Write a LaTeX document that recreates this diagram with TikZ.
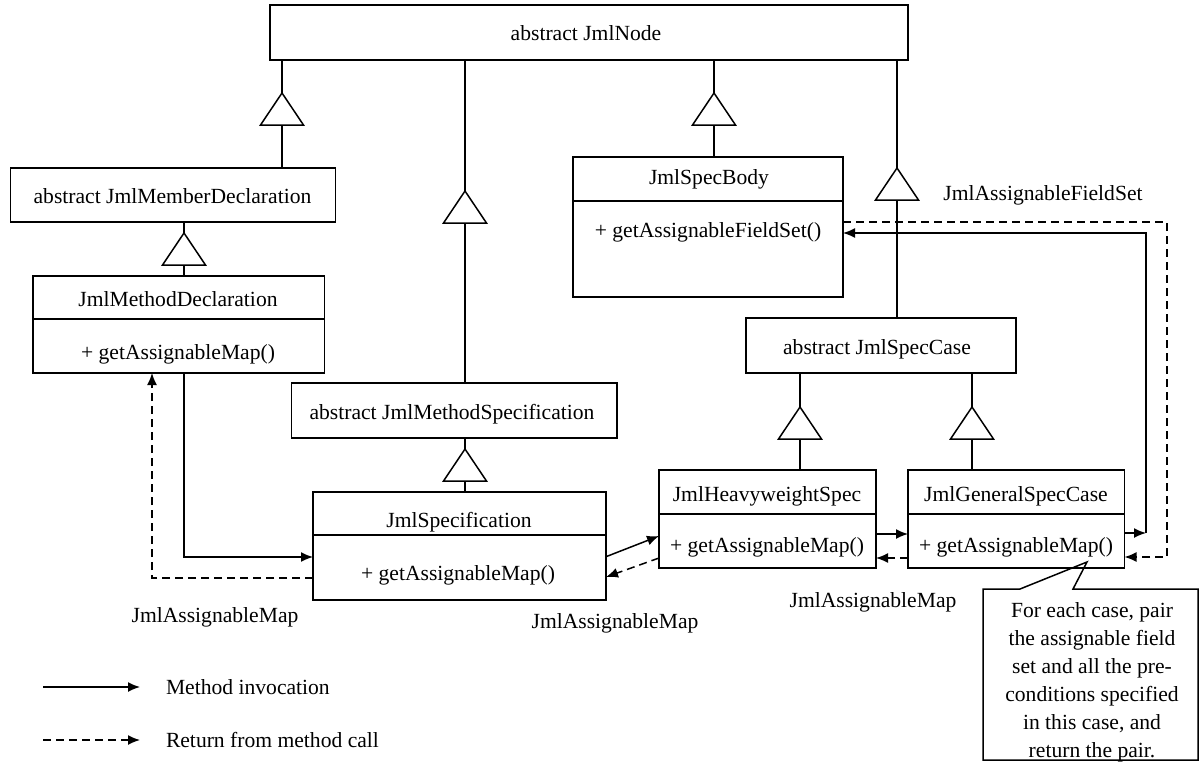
\documentclass[tikz,border=0pt]{standalone}
\usepackage{fontspec}
\setmainfont{Liberation Serif}
\usetikzlibrary{arrows.meta,fit,calc}
\begin{document}
\begin{tikzpicture}[x=0.5pt,y=-0.5pt,
  font=\fontsize{10.8pt}{14pt}\selectfont,
  box/.style={draw, line width=0.75pt, inner sep=0pt, outer sep=0pt},
  txt/.style={inner sep=0pt, outer sep=0pt, text height=7.1pt, text depth=0pt},
  link/.style={line width=0.75pt},
  call/.style={line width=0.75pt, -{Latex[length=6pt,width=5pt]}},
  ret/.style={line width=0.75pt, dash pattern=on 4pt off 2.5pt,
              -{Latex[length=6pt,width=5pt]}},
  gen/.pic={\draw[line width=0.75pt, fill=white] (0,0) -- (-21.5,32) -- (21.5,32) -- cycle;}
]
\useasboundingbox (0,0) rectangle (1199,762);

% ---------- classes ----------
\node[box, fit={(270,5)(908,60)}] (jmlnode) {};
\node[txt] (jmlnodeT) at (586,33) {abstract JmlNode};

\node[box, fit={(10.7,168)(335.6,222)}] (member) {};
\node[txt] (memberT) at (172.5,196) {abstract JmlMemberDeclaration};

\node[box, fit={(33,276)(324.5,373)}] (mdecl) {};
\node[txt] (mdeclT) at (178,299) {JmlMethodDeclaration};
\node[txt] (mdeclM) at (178,352) {+ getAssignableMap()};
\draw[link] (mdecl.west |- 0,319) -- (mdecl.east |- 0,319);

\node[box, fit={(291.5,383)(617,438)}] (mspec) {};
\node[txt] (mspecT) at (452,412) {abstract JmlMethodSpecification};

\node[box, fit={(313,492)(606,600)}] (spec) {};
\node[txt] (specT) at (459,520) {JmlSpecification};
\node[txt] (specM) at (458,573) {+ getAssignableMap()};
\draw[link] (spec.west |- 0,535) -- (spec.east |- 0,535);

\node[box, fit={(573,157)(843,297)}] (body) {};
\node[txt] (bodyT) at (709,177) {JmlSpecBody};
\node[txt] (bodyM) at (708,230) {+ getAssignableFieldSet()};
\draw[link] (body.west |- 0,201) -- (body.east |- 0,201);

\node[box, fit={(746,318)(1016,373)}] (case) {};
\node[txt] (caseT) at (877,347) {abstract JmlSpecCase};

\node[box, fit={(659,470)(876,568)}] (heavy) {};
\node[txt] (heavyT) at (767,494) {JmlHeavyweightSpec};
\node[txt] (heavyM) at (767,545) {+ getAssignableMap()};
\draw[link] (heavy.west |- 0,514) -- (heavy.east |- 0,514);

\node[box, fit={(908,470)(1124.5,568)}] (general) {};
\node[txt] (generalT) at (1016,494) {JmlGeneralSpecCase};
\node[txt] (generalM) at (1016,545) {+ getAssignableMap()};
\draw[link] (general.west |- 0,514) -- (general.east |- 0,514);

% ---------- generalisation ----------
\draw[link] (jmlnode.south -| 282,0) -- (member.north -| 282,0);
\pic at (282,93) {gen};
\draw[link] (jmlnode.south -| 465,0) -- (mspec.north -| 465,0);
\pic at (465,191) {gen};
\draw[link] (jmlnode.south -| 714,0) -- (body.north -| 714,0);
\pic at (714,93) {gen};
\draw[link] (member.south -| 184,0) -- (mdecl.north -| 184,0);
\pic at (184,233) {gen};
\draw[link] (mspec.south -| 465,0) -- (spec.north -| 465,0);
\pic at (465,449) {gen};
\draw[link] (case.south -| 800,0) -- (heavy.north -| 800,0);
\pic at (800,407) {gen};
\draw[link] (case.south -| 972,0) -- (general.north -| 972,0);
\pic at (972,407) {gen};

% ---------- calls and returns ----------
\draw[call] (mdecl.south -| 184,0) |- (spec.west |- 0,557);
\draw[ret] (spec.west |- 0,578) -| (mdecl.south -| 152,0);
\node[txt] (lblA) at (215,615) {JmlAssignableMap};

\draw[call] (spec.east |- 0,556.7) -- (heavy.west |- 0,536);
\draw[ret] (heavy.west |- 0,558) -- (spec.east |- 0,577);
\node[txt] (lblB) at (615,621) {JmlAssignableMap};

\draw[call] (heavy.east |- 0,534) -- (general.west |- 0,534);
\draw[ret] (general.west |- 0,558) -- (heavy.east |- 0,558);
\node[txt] (lblC) at (873,600) {JmlAssignableMap};

\coordinate (callCorner) at (1146,533);
\coordinate (retCorner) at (1167,557);
\draw[ret] (body.east |- 0,222) -| (retCorner) -- (general.east |- retCorner);
\draw[call] (general.east |- callCorner) -- (callCorner);
\draw[call] (callCorner) |- (body.east |- 0,233);
\draw[link] (jmlnode.south -| 897,0) -- (case.north -| 897,0);
\pic at (897,168) {gen};
\node[txt] (lblD) at (1043,193) {JmlAssignableFieldSet};

% ---------- note ----------
\node[inner sep=0pt, outer sep=0pt, fit={(983,589)(1198,760)}] (note) {};
\coordinate (noteTip) at (1087,562);
\draw[link] (note.north west) -- ($(note.north west)+(37,0)$) -- (noteTip)
  -- ($(note.north west)+(90,0)$) -- (note.north east) -- (note.south east)
  -- (note.south west) -- cycle;
\node[inner sep=0pt, align=center, anchor=north] (noteT) at (1092,602)
  {For each case, pair\\the assignable field\\set and all the pre-\\conditions specified\\in this case, and\\return the pair.};

% ---------- legend ----------
\coordinate (legA1) at (43,687);
\coordinate (legA2) at (140,687);
\draw[call] (legA1) -- (legA2);
\node[txt, anchor=west] (legAT) at (166,687) {Method invocation};
\coordinate (legB1) at (43,740);
\coordinate (legB2) at (140,740);
\draw[ret] (legB1) -- (legB2);
\node[txt, anchor=west] (legBT) at (166,740) {Return from method call};
\end{tikzpicture}
\end{document}
